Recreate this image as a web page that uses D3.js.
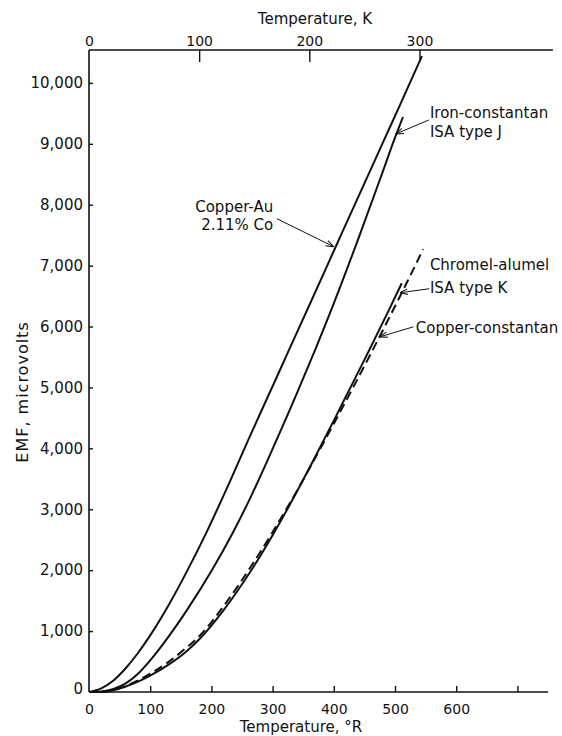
<!DOCTYPE html>
<html>
<head>
<meta charset="utf-8">
<script src="https://cdn.jsdelivr.net/npm/d3@7"></script>
<style>
  body { margin: 0; background: #fff; }
  svg text { font-family: "DejaVu Sans", sans-serif; fill: #111; }
</style>
</head>
<body>
<div id="chart"></div>
<script>
// data: temperature in deg R, EMF in microvolts
const copperAuR   = [0, 20, 40, 60, 80, 100, 130, 160, 190, 230, 263, 300, 325, 360, 400, 440, 480, 511, 544];
const copperAuEmf = [0, 60, 190, 390, 640, 930, 1425, 1980, 2580, 3450, 4200, 5020, 5575, 6350, 7240, 8130, 9015, 9700, 10440];

const ironConR   = [0, 20, 40, 60, 80, 100, 130, 160, 200, 235, 263, 300, 340, 369, 400, 440, 479, 500, 513];
const ironConEmf = [0, 10, 50, 140, 300, 520, 910, 1345, 1985, 2615, 3175, 3990, 4910, 5605, 6380, 7440, 8515, 9100, 9440];

const chromelR   = [0, 20, 40, 60, 80, 100, 130, 160, 181, 220, 263, 300, 340, 361, 400, 430, 459, 490, 511];
const chromelEmf = [0, 0, 30, 90, 170, 270, 450, 675, 875, 1345, 1965, 2575, 3295, 3695, 4455, 5055, 5635, 6270, 6710];

const copperConR   = [0, 20, 40, 60, 80, 100, 130, 160, 181, 220, 263, 300, 340, 361, 400, 430, 460, 490, 520, 546];
const copperConEmf = [0, 5, 35, 100, 190, 300, 495, 735, 925, 1410, 2035, 2625, 3305, 3685, 4405, 4970, 5545, 6135, 6735, 7270];

const rTicks = [0, 100, 200, 300, 400, 500, 600, 700];
const rLabels = ["0", "100", "200", "300", "400", "500", "600", ""];
const kTicks = [0, 100, 200, 300];
const emfTicks = [0, 1000, 2000, 3000, 4000, 5000, 6000, 7000, 8000, 9000, 10000];

const WIDTH = 562, HEIGHT = 736;

const svg = d3.select("#chart").append("svg")
  .attr("width", WIDTH)
  .attr("height", HEIGHT);

// scales (the Kelvin scale sits on top, 1 K = 1.8 deg R)
const x = d3.scaleLinear().domain([0, 750]).range([89, 548]);
const xK = d3.scaleLinear().domain([0, 750 / 1.8]).range([89, 548]);
const y = d3.scaleLinear().domain([0, 10540]).range([692, 50]);

// axes
const bottomAxis = d3.axisBottom(x).tickValues(rTicks).tickSize(-6)
  .tickFormat((d, i) => rLabels[i]).tickPadding(12);
const gB = svg.append("g").attr("transform", `translate(0,${y(0)})`).call(bottomAxis);
gB.select(".domain").remove();
gB.selectAll(".tick line").filter(d => d === 0).remove();

const topAxis = d3.axisTop(xK).tickValues(kTicks).tickSize(-12).tickPadding(4);
const gT = svg.append("g").attr("transform", `translate(0,${y(10540)})`).call(topAxis);
gT.select(".domain").remove();
gT.selectAll(".tick line").filter(d => d === 0).remove();

const leftAxis = d3.axisLeft(y).tickValues(emfTicks).tickSize(-4)
  .tickFormat(d3.format(",")).tickPadding(6);
const gL = svg.append("g").attr("transform", `translate(${x(0)},0)`).call(leftAxis);
gL.select(".domain").remove();
gL.selectAll(".tick line").filter(d => d === 0).remove();
gL.selectAll(".tick").filter(d => d === 0).select("text").attr("dy", "0.1em");

[gB, gT].forEach(g => g.selectAll("text").attr("font-size", 14).attr("font-family", "DejaVu Sans"));
gL.selectAll("text").attr("font-size", 15).attr("font-family", "DejaVu Sans");
[gB, gT, gL].forEach(g => g.selectAll(".tick line").attr("stroke", "#111").attr("stroke-width", 1.4));

// frame lines (left, bottom, top)
svg.append("line").attr("x1", x(0)).attr("x2", x(0)).attr("y1", y(10540)).attr("y2", y(0))
  .attr("stroke", "#111").attr("stroke-width", 1.6);
svg.append("line").attr("x1", x(0)).attr("x2", x(750)).attr("y1", y(0)).attr("y2", y(0))
  .attr("stroke", "#111").attr("stroke-width", 1.6);
svg.append("line").attr("x1", x(0)).attr("x2", x(758)).attr("y1", y(10540)).attr("y2", y(10540))
  .attr("stroke", "#111").attr("stroke-width", 1.6);

// axis titles
svg.append("text").attr("x", 315).attr("y", 24).attr("text-anchor", "middle")
  .attr("font-size", 15).text("Temperature, K");
svg.append("text").attr("x", 301).attr("y", 732).attr("text-anchor", "middle")
  .attr("font-size", 15).text("Temperature, °R");
svg.append("text").attr("transform", "translate(28,392) rotate(-90)").attr("text-anchor", "middle")
  .attr("font-size", 16).attr("letter-spacing", 1).text("EMF, microvolts");

// curves
const line = d3.line().x(d => x(d[0])).y(d => y(d[1])).curve(d3.curveMonotoneX);
const series = [
  { r: copperAuR, emf: copperAuEmf, dash: null },
  { r: ironConR, emf: ironConEmf, dash: null },
  { r: chromelR, emf: chromelEmf, dash: null },
  { r: copperConR, emf: copperConEmf, dash: "9,5" }
];
series.forEach(s => {
  svg.append("path")
    .datum(d3.zip(s.r, s.emf))
    .attr("d", line)
    .attr("fill", "none")
    .attr("stroke", "#111")
    .attr("stroke-width", 2)
    .attr("stroke-dasharray", s.dash);
});

// labels with arrows (positions in data units)
svg.append("defs").append("marker")
  .attr("id", "arrow").attr("viewBox", "0 0 10 10").attr("refX", 10).attr("refY", 5)
  .attr("markerWidth", 8).attr("markerHeight", 8).attr("orient", "auto")
  .append("path").attr("d", "M0,1.5 L10,5 L0,8.5").attr("fill", "none").attr("stroke", "#111").attr("stroke-width", 1.3);

const notes = [
  { lines: ["Copper-Au", "2.11% Co"], tx: 301, ty: 7880, gap: 18, anchor: "end", from: [307, 7770], to: [400, 7310] },
  { lines: ["Iron-constantan", "ISA type J"], tx: 557, ty: 9425, gap: 19, anchor: "start", from: [555, 9390], to: [501, 9160] },
  { lines: ["Chromel-alumel", "ISA type K"], tx: 557, ty: 6930, gap: 23, anchor: "start", from: [556, 6620], to: [508, 6555] },
  { lines: ["Copper-constantan"], tx: 534, ty: 5895, gap: 0, anchor: "start", from: [530, 5995], to: [475, 5830] }
];
notes.forEach(n => {
  const t = svg.append("text").attr("x", x(n.tx)).attr("y", y(n.ty))
    .attr("text-anchor", n.anchor).attr("font-size", 15);
  n.lines.forEach((s, i) => {
    t.append("tspan").attr("x", x(n.tx)).attr("dy", i === 0 ? 0 : n.gap).text(s);
  });
  svg.append("line")
    .attr("x1", x(n.from[0])).attr("y1", y(n.from[1]))
    .attr("x2", x(n.to[0])).attr("y2", y(n.to[1]))
    .attr("stroke", "#111").attr("stroke-width", 1)
    .attr("marker-end", "url(#arrow)");
});
</script>
</body>
</html>
